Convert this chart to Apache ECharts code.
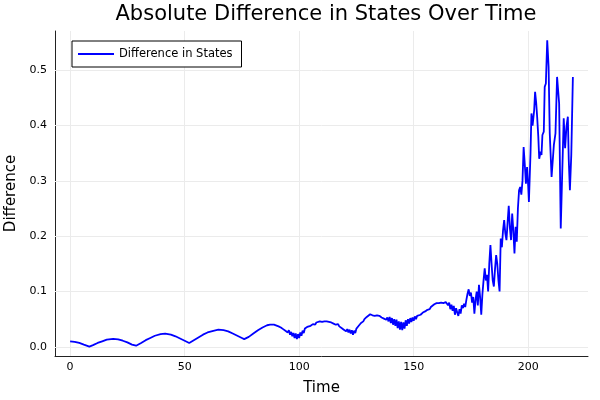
<!DOCTYPE html>
<html>
<head>
<meta charset="utf-8">
<script src="https://cdn.jsdelivr.net/npm/echarts@6/dist/echarts.min.js"></script>
<style>html,body{margin:0;padding:0;background:#fff}#c{width:600px;height:400px}</style>
</head>
<body>
<div id="c"></div>
<script>
const titleText = "Absolute Difference in States Over Time";
const xLabel = "Time";
const yLabel = "Difference";
const seriesName = "Difference in States";
const xTicks = [0, 50, 100, 150, 200];
const yTicks = [0, 0.1, 0.2, 0.3, 0.4, 0.5];

const times = [
 0,2,4,6,8.4,10,12,14,16,18.8,21,23,25,27,28.8,31,33,35,37,39.5,41.5,44,46,48,50,52,54,56,58,60,62.5,64.7,67,69,71,73,75,76,78,80,82,84,86,87.3,89,91,
 92,92.5,93,93.5,94,94.5,95,95.5,96,96.5,97,97.5,98,98.5,99,99.5,100,100.5,101,101.5,102,102.5,103,103.5,104,105,105.5,106,107,107.5,108,109,110,110.5,111,112,113,114,115,115.5,116,117,117.5,118,118.5,119,119.5,120,120.5,121,121.5,122,122.5,123,123.5,124,124.5,125,125.5,126,126.5,127,128,128.5,129,129.5,130,131,132,132.5,133,134,134.5,135,136,136.5,137,137.5,138,138.5,139,139.5,140,140.5,141,141.5,142,142.5,143,143.5,144,144.5,145,145.5,146,146.5,147,147.5,148,148.5,149,149.5,150,150.5,151,151.5,152,153,153.5,154,155,155.5,156,157,157.5,158,159,160,160.5,161,162,163,163.5,164,164.5,165,165.5,166,166.5,167,167.5,168,168.5,169,169.5,170,170.5,171,171.5,172,172.5,173,173.5,174,174.5,175,175.5,176,176.5,177,177.5,178,178.5,179,179.5,180,180.5,181,181.5,182,182.5,183,183.5,184,184.5,185,185.5,186,186.5,187,187.5,188,188.5,189,189.5,190,190.5,191,191.5,192,192.5,193,193.5,194,194.5,195,195.5,196,196.5,197,197.5,198,198.5,199,199.5,200,200.3,201,201.4,201.9,202.6,203,203.5,203.9,204.4,204.8,205.4,205.8,206.2,206.8,207.2,207.7,208.3,208.9,209.4,210.2,210.6,211.2,211.9,212.6,213,213.5,214.2,214.8,215.5,216.1,216.7,217.3,217.7,218.2,218.8,219.5
];
const diffs = [
 0.010,0.009,0.007,0.004,0.0005,0.003,0.007,0.010,0.013,0.0145,0.0135,0.011,0.008,0.004,0.002,0.007,0.012,0.016,0.020,0.023,0.024,0.022,0.019,0.015,0.011,0.007,0.012,0.017,0.022,0.026,0.029,0.031,0.030,0.028,0.024,0.020,0.016,0.014,0.018,0.024,0.030,0.035,0.039,0.040,0.040,0.037,
 0.035,0.036,0.032,0.034,0.029,0.031,0.026,0.030,0.022,0.027,0.019,0.025,0.016,0.024,0.014,0.023,0.016,0.026,0.020,0.029,0.025,0.033,0.030,0.036,0.033,0.038,0.036,0.041,0.040,0.044,0.042,0.046,0.045,0.047,0.046,0.046,0.045,0.044,0.042,0.043,0.040,0.041,0.037,0.039,0.034,0.036,0.031,0.034,0.028,0.032,0.026,0.031,0.024,0.030,0.022,0.029,0.025,0.033,0.030,0.038,0.036,0.043,0.046,0.050,0.049,0.054,0.055,0.059,0.057,0.059,0.056,0.057,0.054,0.056,0.053,0.055,0.051,0.054,0.049,0.053,0.046,0.054,0.043,0.052,0.040,0.050,0.038,0.049,0.034,0.046,0.031,0.045,0.030,0.044,0.033,0.048,0.038,0.050,0.042,0.052,0.045,0.053,0.047,0.055,0.050,0.056,0.053,0.058,0.056,0.062,0.064,0.062,0.067,0.068,0.072,0.073,0.077,0.079,0.081,0.079,0.080,0.079,0.082,0.081,0.083,0.075,0.080,0.068,0.076,0.065,0.074,0.058,0.070,0.062,0.056,0.068,0.060,0.075,0.070,0.078,0.072,0.085,0.096,0.104,0.092,0.098,0.080,0.090,0.060,0.085,0.100,0.075,0.112,0.090,0.058,0.095,0.120,0.142,0.120,0.130,0.100,0.150,0.184,0.150,0.120,0.109,0.140,0.166,0.150,0.120,0.100,0.196,0.180,0.210,0.229,0.205,0.193,0.225,0.255,0.215,0.193,0.241,0.210,0.169,0.217,0.190,0.250,0.283,0.289,0.275,0.300,0.361,0.330,0.295,0.325,0.290,0.262,0.350,0.422,0.400,0.428,0.461,0.440,0.416,0.380,0.340,0.353,0.347,0.383,0.389,0.470,0.476,0.554,0.506,0.386,0.307,0.310,0.365,0.386,0.488,0.491,0.440,0.214,0.307,0.413,0.359,0.398,0.416,0.338,0.283,0.347,0.488
];

const data = times.map((t, i) => [t, diffs[i]]);
const font = "DejaVu Sans";
const gridLines = xTicks.map(v => ({xAxis: v})).concat(yTicks.map(v => ({yAxis: v})));
const chart = echarts.init(document.getElementById('c'), null, {renderer: 'canvas'});
chart.setOption({
  animation: false,
  backgroundColor: '#fff',
  title: {
    text: titleText, left: 321, top: -1, textAlign: 'center',
    textStyle: {fontFamily: font, fontSize: 21, fontWeight: 'normal', color: '#000'}
  },
  legend: {
    left: 72, top: 41, orient: 'vertical',
    borderColor: '#000', borderWidth: 1, backgroundColor: '#fff',
    padding: [7, 9, 7, 6], itemWidth: 36, itemHeight: 2, itemGap: 4,
    textStyle: {fontFamily: font, fontSize: 11.5, color: '#000', padding: [0, 0, 0, 0]},
    data: [{name: seriesName, icon: 'rect', itemStyle: {color: '#0000ff'}}]
  },
  grid: {left: 55, right: 12, top: 31, bottom: 44, containLabel: false, outerBoundsMode: 'none'},
  xAxis: {
    type: 'value', min: -6.6, max: 226.1,
    name: xLabel, nameLocation: 'middle', nameGap: 25,
    nameTextStyle: {fontFamily: font, fontSize: 15, color: '#000'},
    axisLine: {show: true, onZero: false, lineStyle: {color: '#222', width: 1}},
    axisTick: {show: true, inside: true, length: 4, customValues: xTicks, lineStyle: {color: '#222'}},
    axisLabel: {customValues: xTicks, fontFamily: font, fontSize: 11, color: '#000', margin: 6,
                formatter: v => String(v)},
    splitLine: {show: false}
  },
  yAxis: {
    type: 'value', min: -0.0166, max: 0.571,
    name: yLabel, nameLocation: 'middle', nameGap: 34, nameRotate: 90,
    nameTextStyle: {fontFamily: font, fontSize: 15, color: '#000'},
    axisLine: {show: true, onZero: false, lineStyle: {color: '#222', width: 1}},
    axisTick: {show: true, inside: true, length: 4, customValues: yTicks, lineStyle: {color: '#222'}},
    axisLabel: {customValues: yTicks, fontFamily: font, fontSize: 11, color: '#000', margin: 8,
                formatter: v => v.toFixed(1)},
    splitLine: {show: false}
  },
  series: [{
    name: seriesName, type: 'line', data: data, symbol: 'none', showSymbol: false,
    lineStyle: {color: '#0000ff', width: 1.8}, itemStyle: {color: '#0000ff'},
    z: 3,
    markLine: {
      silent: true, symbol: ['none', 'none'], z: 1,
      label: {show: false},
      lineStyle: {color: '#ebebeb', width: 1, type: 'solid'},
      emphasis: {disabled: true},
      data: gridLines
    }
  }]
});
</script>
</body>
</html>
